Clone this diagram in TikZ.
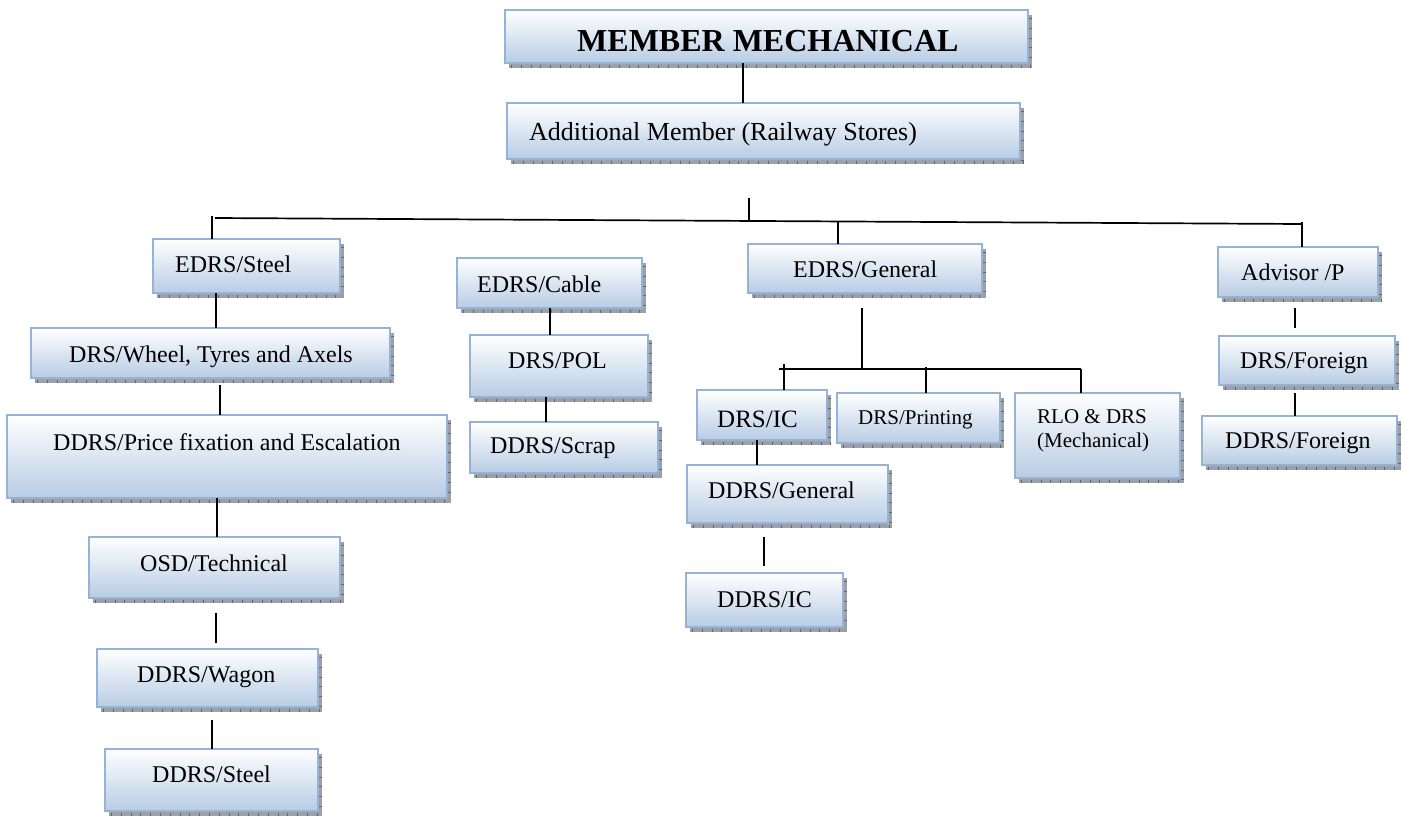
\documentclass[tikz,border=0pt]{standalone}
\usepackage{fontspec}
\setmainfont{Liberation Serif}
\usetikzlibrary{calc}
\definecolor{bordc}{RGB}{149,179,215}
\definecolor{fillc}{RGB}{184,204,228}
\definecolor{shadc}{RGB}{158,160,168}
\definecolor{tickc}{RGB}{95,100,115}
\tikzset{
  orgbox/.style={draw=bordc, line width=2pt, top color=white, bottom color=fillc, inner sep=0pt, outer sep=0pt},
  shad/.style={fill=shadc},
  shadtick/.style={draw=tickc, line width=3pt, dash pattern=on 0.8pt off 9pt},
  lbl/.style={anchor=base west, inner sep=0pt, font=\fontsize{24}{28}\selectfont},
  conn/.style={line width=1.7pt, black},
}
\newcommand\orgbx[5]{%
  \fill[shad] (#2+4,#3+5) rectangle (#4+4,#5+5);
  \draw[shadtick] (#2+6,#5+3) -- (#4+4,#5+3);
  \draw[shadtick] (#4+2.5,#3+8) -- (#4+2.5,#5+3);
  \node[orgbox, minimum width={(#4-#2)*1pt}, minimum height={(#5-#3)*1pt}] (#1) at ({(#2+#4)/2},{(#3+#5)/2}) {};
}
\begin{document}
\begin{tikzpicture}[x=1pt, y=-1pt]
\useasboundingbox (0,0) rectangle (1403,817);
% boxes
\orgbx{member}{505}{10}{1028}{63}
\orgbx{addl}{507}{103}{1020}{159}
\orgbx{edrssteel}{153}{239}{340}{293}
\orgbx{edrscable}{457}{258}{642}{308}
\orgbx{edrsgen}{748}{244}{982}{293}
\orgbx{advisor}{1218}{247}{1378}{297}
\orgbx{wheel}{31}{328}{390}{378}
\orgbx{price}{7}{415}{447}{498}
\orgbx{osd}{89}{537}{340}{598}
\orgbx{wagon}{97}{649}{318}{707}
\orgbx{ddrssteel}{105}{749}{318}{811}
\orgbx{pol}{470}{335}{648}{397}
\orgbx{scrap}{470}{422}{658}{473}
\orgbx{drsic}{697}{390}{827}{440}
\orgbx{printing}{837}{393}{1000}{443}
\orgbx{rlo}{1015}{393}{1180}{478}
\orgbx{ddrsgen}{687}{465}{888}{523}
\orgbx{ddrsic}{686}{573}{843}{627}
\orgbx{drsfor}{1219}{336}{1395}{385}
\orgbx{ddrsfor}{1202}{416}{1397}{465}
% texts
\node[lbl] (member-t) at (577,51) {\fontsize{32}{36}\selectfont\bfseries MEMBER MECHANICAL};
\node[lbl] (addl-t) at (529,140) {\fontsize{26}{30}\selectfont Additional Member (Railway Stores)};
\node[lbl] (edrssteel-t) at (175,272) {EDRS/Steel};
\node[lbl] (edrscable-t) at (477,292) {EDRS/Cable};
\node[lbl] (edrsgen-t) at (793,277) {EDRS/General};
\node[lbl] (advisor-t) at (1241,280) {Advisor /P};
\node[lbl] (wheel-t) at (69,362) {DRS/Wheel, Tyres and Axels};
\node[lbl] (price-t) at (53,450) {DDRS/Price fixation and Escalation};
\node[lbl] (osd-t) at (140,571) {OSD/Technical};
\node[lbl] (wagon-t) at (137,682) {DDRS/Wagon};
\node[lbl] (ddrssteel-t) at (152,782) {DDRS/Steel};
\node[lbl] (pol-t) at (508,368) {DRS/POL};
\node[lbl] (scrap-t) at (490,453) {DDRS/Scrap};
\node[lbl] (drsic-t) at (717,427) {\fontsize{25}{29}\selectfont DRS/IC};
\node[lbl] (printing-t) at (858,424) {\fontsize{21}{25}\selectfont DRS/Printing};
\node[lbl] (rlo-t1) at (1037,423) {\fontsize{21}{25}\selectfont RLO \& DRS};
\node[lbl] (rlo-t2) at (1037,447) {\fontsize{21}{25}\selectfont (Mechanical)};
\node[lbl] (ddrsgen-t) at (708,498) {DDRS/General};
\node[lbl] (ddrsic-t) at (717,607) {DDRS/IC};
\node[lbl] (drsfor-t) at (1240,368) {DRS/Foreign};
\node[lbl] (ddrsfor-t) at (1225,448) {DDRS/Foreign};
% connectors
\draw[conn] (member.south -| 743,0) -- (addl.north -| 743,0);
\coordinate (tkA) at (749,198);
\coordinate (tkB) at (749,220);
\draw[conn] (tkA) -- (tkB);
\coordinate (hL) at (215,218);
\coordinate (hR) at (1302,224);
\draw[conn] (hL) -- (hR);
\coordinate (s1) at (212,216);
\draw[conn] (s1) -- (edrssteel.north -| s1);
\coordinate (g1) at ($(hL)!0.5731!(hR)$);
\draw[conn] (g1) -- (edrsgen.north -| g1);
\draw[conn] ($(hR)+(0,-2)$) -- (advisor.north -| hR);
% EDRS/General branch
\coordinate (sL) at (779,369);
\coordinate (sR) at (1081,369);
\draw[conn] ($(edrsgen.south -| 862,0)+(0,15)$) -- (sL -| 862,0);
\draw[conn] (sL) -- (sR);
\draw[conn] ($(drsic.north -| 784,0)+(0,-26)$) -- (drsic.north -| 784,0);
\draw[conn] ($(printing.north -| 926,0)+(0,-26)$) -- (printing.north -| 926,0);
\draw[conn] (sR) -- (rlo.north -| sR);
\draw[conn] (drsic.south -| 757,0) -- (ddrsgen.north -| 757,0);
\draw[conn] ($(ddrsgen.south -| 764,0)+(0,14)$) -- ($(ddrsic.north -| 764,0)+(0,-7)$);
% cable column
\draw[conn] (edrscable.south -| 550,0) -- (pol.north -| 550,0);
\draw[conn] (pol.south -| 546,0) -- (scrap.north -| 546,0);
% advisor column
\draw[conn] ($(advisor.south -| 1295,0)+(0,11)$) -- ($(drsfor.north -| 1295,0)+(0,-8)$);
\draw[conn] ($(drsfor.south -| 1295,0)+(0,8)$) -- (ddrsfor.north -| 1295,0);
% steel column
\draw[conn] (edrssteel.south -| 216,0) -- (wheel.north -| 216,0);
\draw[conn] ($(wheel.south -| 220,0)+(0,7)$) -- (price.north -| 220,0);
\draw[conn] (price.south -| 217,0) -- (osd.north -| 217,0);
\draw[conn] ($(osd.south -| 216,0)+(0,15)$) -- ($(wagon.north -| 216,0)+(0,-6)$);
\draw[conn] ($(wagon.south -| 212,0)+(0,13)$) -- (ddrssteel.north -| 212,0);
\end{tikzpicture}
\end{document}
